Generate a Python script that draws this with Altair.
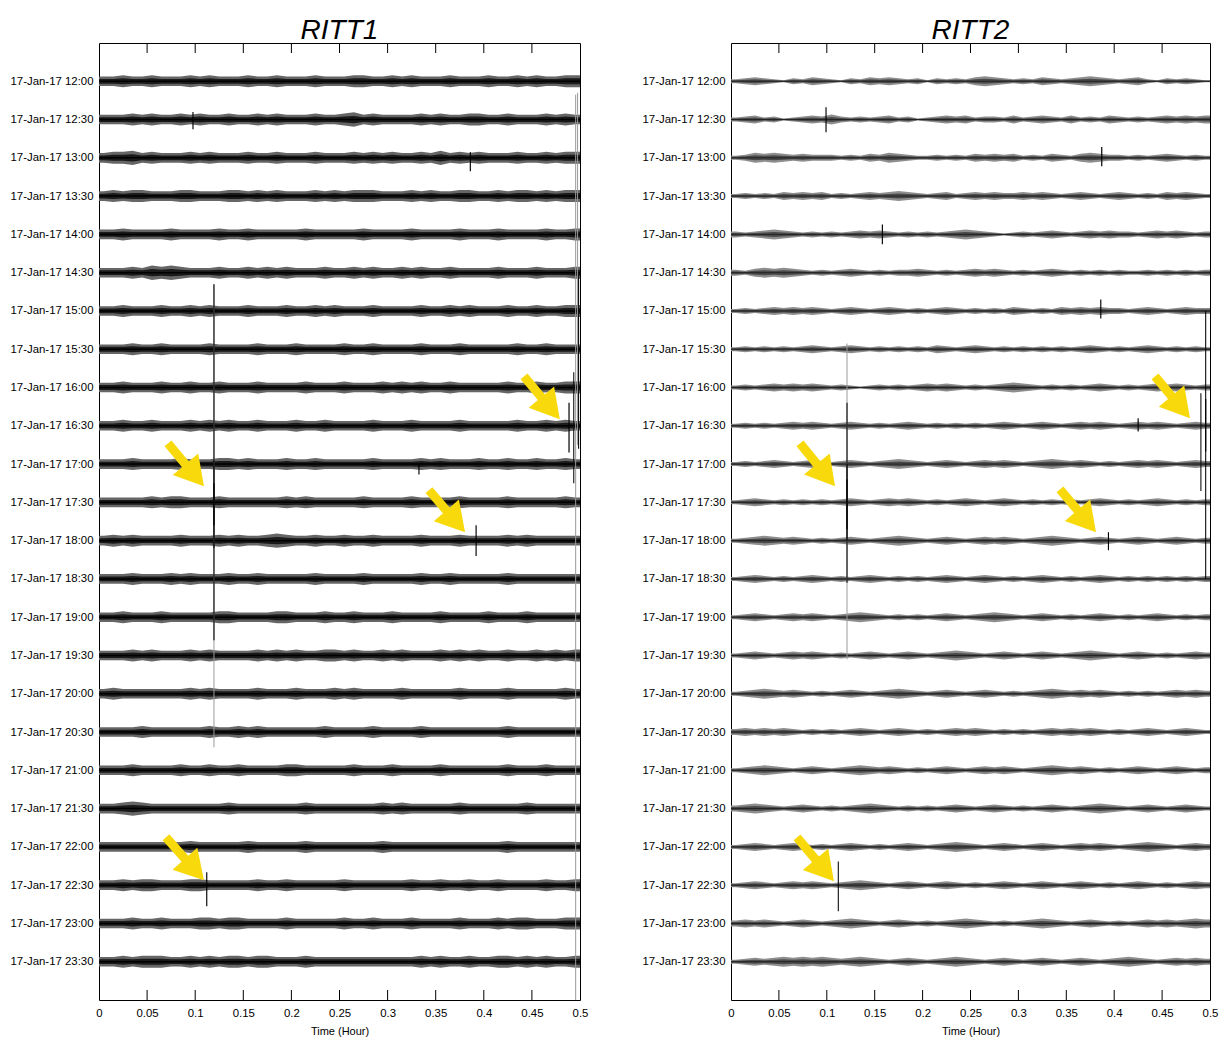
import json
import math
import altair as alt
import pandas as pd

# ---------------- data ----------------
ROW_LABELS = [
    "17-Jan-17 12:00", "17-Jan-17 12:30", "17-Jan-17 13:00", "17-Jan-17 13:30",
    "17-Jan-17 14:00", "17-Jan-17 14:30", "17-Jan-17 15:00", "17-Jan-17 15:30",
    "17-Jan-17 16:00", "17-Jan-17 16:30", "17-Jan-17 17:00", "17-Jan-17 17:30",
    "17-Jan-17 18:00", "17-Jan-17 18:30", "17-Jan-17 19:00", "17-Jan-17 19:30",
    "17-Jan-17 20:00", "17-Jan-17 20:30", "17-Jan-17 21:00", "17-Jan-17 21:30",
    "17-Jan-17 22:00", "17-Jan-17 22:30", "17-Jan-17 23:00", "17-Jan-17 23:30",
]
X_TICKS = [0, 0.05, 0.1, 0.15, 0.2, 0.25, 0.3, 0.35, 0.4, 0.45, 0.5]

# envelope (half-amplitude) in 0.01 h bins, one string per trace
RITT1_ENV = [
    "4454454445 4544454454 4454445544 5454445444 5445454455",
    "4445454454 5445445454 4454456454 4445454455 4454445454",
    "4556454445 4544454454 4454445454 5445464545 4445445455",
    "4545544455 4445545454 4454545554 4454544554 4545545455",
    "4454444544 4454454444 4544444544 4454444544 4544445445",
    "4445465654 4454454545 4445445454 4545445444 4544454445",
    "4454445445 4544454445 4454544454 4445445454 4454454455",
    "4445445444 4544445444 5444454454 4445444544 4445445444",
    "4454445445 4454445444 4544454445 4545445444 4454454455",
    "4454454445 4545445444 5445444454 4454444544 4445445454",
    "4445444454 4455454445 4454444454 4445454445 4454454454",
    "4444454554 4454444445 4544444544 4454444544 4454444454",
    "4545444454 4454544565 4454454454 4445444544 4454544444",
    "4445444545 4445445444 4454444544 4445445444 4454444444",
    "4454445444 4455444455 4445445444 5444454444 5444544444",
    "4445454445 4544445454 5445545445 4544454545 4454454545",
    "4544444445 4544445444 5444545444 4544444544 4454444454",
    "4444544444 4544545444 4445444454 4445444444 4454444444",
    "4445444454 4544544445 5444445444 5444454444 4454445444",
    "4456544444 4445444444 4544444445 4544444544 4444544444",
    "4444444445 4444454444 4544444445 4444444444 4454444444",
    "4454554445 5444445445 4444454444 4454454454 4544445445",
    "4445445444 5545544445 4444454454 4454444544 4545544455",
    "4454555445 4545545544 4544444444 4445454454 4554545445",
]
RITT2_ENV = [
    "2343213243 2132434323 1323245432 3243234543 2342132321",
    "2342312343 5323234231 2343423324 2343242324 3232343434",
    "2354543433 3232435432 2323243434 2324324543 3232343232",
    "2323243434 2323434543 2342343433 4343234323 4323243432",
    "3234543232 3234343232 3234543212 3234323434 3323434323",
    "3245454323 2343232334 3232343432 3234323232 3223232323",
    "2323434343 2343234323 2343232324 3232434343 3234323433",
    "2323232343 2343232323 2432343232 3232323432 3234323232",
    "2323434343 2321232323 4343232345 4323232343 2323434323",
    "2323234343 2343232343 2323232343 2343234343 2343432343",
    "2323432343 2343234543 2343234343 2345434323 2343432343",
    "2343232323 2343234343 2323432343 2323232343 2323432323",
    "2345434323 2343234543 2343234343 2345432343 2343234323",
    "2343232343 2323432323 2343234323 2343232343 2323232323",
    "2343234343 2345432323 2343234543 2343232343 2323432323",
    "2343234343 2323432343 2345432343 2343234543 2343232343",
    "2345434323 2343234543 2343234323 2345434343 2323234343",
    "3434343232 3234323432 3234343232 3234343432 3234323432",
    "2345432343 2345434323 2343234343 2345434323 2343234323",
    "3454323432 3234543232 3234323432 3234323454 3234323432",
    "2343234323 2343232343 2345432343 2343234343 2345432343",
    "2343234343 2345432343 2343232343 2343234323 2343232343",
    "3434323432 3454323432 3234543232 3454323432 3234343454",
    "2343454545 4345432343 2345432343 2343234323 4543234343",
]

# seismic events: (panel, time [h], top row, bottom row, kind)
EVENTS = [
    ("RITT1", 0.0977, 0.80, 1.25, "minor"),
    ("RITT1", 0.386, 1.85, 2.35, "minor"),
    ("RITT1", 0.4955, 0.35, 24.0, "faint"),
    ("RITT1", 0.4975, 0.30, 9.5, "faint"),
    ("RITT1", 0.4985, 5.0, 9.6, "medium"),
    ("RITT1", 0.4935, 7.6, 10.5, "medium"),
    ("RITT1", 0.4886, 8.4, 9.7, "strong"),
    ("RITT1", 0.1195, 5.3, 17.4, "faint"),
    ("RITT1", 0.1195, 5.3, 14.6, "line"),
    ("RITT1", 0.1195, 9.9, 12.2, "medium"),
    ("RITT1", 0.1195, 10.5, 11.6, "strong"),
    ("RITT1", 0.392, 11.6, 12.4, "minor"),
    ("RITT1", 0.112, 20.66, 21.55, "minor"),
    ("RITT1", 0.3326, 10.0, 10.27, "minor"),
    ("RITT2", 0.0992, 0.68, 1.33, "minor"),
    ("RITT2", 0.387, 1.72, 2.22, "strong"),
    ("RITT2", 0.158, 3.74, 4.26, "minor"),
    ("RITT2", 0.386, 5.7, 6.2, "minor"),
    ("RITT2", 0.4955, 6.0, 13.0, "line"),
    ("RITT2", 0.4905, 8.15, 10.7, "medium"),
    ("RITT2", 0.4955, 8.3, 9.67, "strong"),
    ("RITT2", 0.425, 8.8, 9.15, "minor"),
    ("RITT2", 0.1211, 6.85, 15.1, "faint"),
    ("RITT2", 0.1211, 8.4, 13.1, "line"),
    ("RITT2", 0.1211, 10.0, 12.0, "medium"),
    ("RITT2", 0.1211, 10.4, 11.7, "strong"),
    ("RITT2", 0.394, 11.78, 12.25, "minor"),
    ("RITT2", 0.112, 20.38, 21.68, "line"),
]

# yellow arrows: (panel, tail time, tail row, tip time, tip row)
ARROWS = [
    ("RITT1", 0.4418, 7.71, 0.4790, 8.83),
    ("RITT1", 0.0717, 9.46, 0.1091, 10.58),
    ("RITT1", 0.3430, 10.68, 0.3805, 11.78),
    ("RITT1", 0.0696, 19.75, 0.1091, 20.87),
    ("RITT2", 0.4426, 7.71, 0.4791, 8.80),
    ("RITT2", 0.0720, 9.46, 0.1086, 10.58),
    ("RITT2", 0.3434, 10.66, 0.3810, 11.78),
    ("RITT2", 0.0689, 19.75, 0.1075, 20.90),
]

# ---------------- layout / style ----------------
H = 957
WIDTHS = {"RITT1": 481, "RITT2": 479}
PX_PER_ROW = H / 25.0
FONT = "Liberation Sans"
YELLOW = "#F8DA0C"
STYLE = {
    "RITT1": dict(env=RITT1_ENV, px=1.2, outer="#666666", inner="#1a1a1a", center="#000000", cw=1.5),
    "RITT2": dict(env=RITT2_ENV, px=1.0, outer="#8e8e8e", inner="#4a4a4a", center="#222222", cw=1.0),
}
KINDS = ["faint", "line", "medium", "minor", "strong"]
KIND_COLORS = ["#9a9a9a", "#000000", "#111111", "#000000", "#000000"]
KIND_WIDTHS = [1, 1.2, 2.2, 1.2, 5]
HEAD_SIZE = 1100


def panel(name):
    st = STYLE[name]
    W = WIDTHS[name]
    px_per_t = W / 0.5
    recs = []
    for r, s in enumerate(st["env"]):
        s = "".join(s.split())
        n = len(s)
        pts = [(0.0, int(s[0]))] + [((i + 0.5) / n * 0.5, int(c)) for i, c in enumerate(s)] + [(0.5, int(s[-1]))]
        for t, d in pts:
            a = d * st["px"] / PX_PER_ROW
            recs.append(dict(row=r, t=t, lo=r - a, hi=r + a, lo2=r - 0.5 * a, hi2=r + 0.5 * a))
    env = pd.DataFrame(recs)
    rows = pd.DataFrame({"row": list(range(len(ROW_LABELS)))})
    ev = pd.DataFrame([e for e in EVENTS if e[0] == name], columns=["panel", "t", "top", "bot", "kind"])
    ticks = pd.DataFrame({"t": [v for v in X_TICKS if 0 < v < 0.5]})

    arr = []
    for p, t0, r0, t1, r1 in ARROWS:
        if p != name:
            continue
        dx = (t1 - t0) * px_per_t
        dy = (r1 - r0) * PX_PER_ROW
        L = math.hypot(dx, dy)
        ux, uy = dx / L, dy / L
        h = math.sqrt(3) / 2 * math.sqrt(HEAD_SIZE) / 2
        hx = t1 - h * ux / px_per_t
        hy = r1 - h * uy / PX_PER_ROW
        arr.append(dict(t0=t0, r0=r0, hx=hx, hy=hy, ang=math.degrees(math.atan2(dy, dx)) % 360))
    arr = pd.DataFrame(arr)

    xs = alt.Scale(domain=[0, 0.5], nice=False, zero=False)
    ys = alt.Scale(domain=[-1, 24], nice=False, zero=False, reverse=True)
    xaxis = alt.Axis(values=X_TICKS, format="~g", labelFlush=False, labelPadding=7, ticks=False,
                     domain=False, grid=False, title="Time (Hour)", titlePadding=7)
    yaxis = alt.Axis(values=list(range(len(ROW_LABELS))), ticks=False, domain=False, grid=False,
                     title=None, labelPadding=6,
                     labelExpr=json.dumps(ROW_LABELS) + "[round(datum.value)]")

    def X(f):
        return alt.X(f, scale=xs, axis=xaxis)

    def Y(f):
        return alt.Y(f, scale=ys, axis=yaxis)

    outer = alt.Chart(env).mark_area(color=st["outer"], clip=True).encode(
        x=X("t:Q"), y=Y("lo:Q"), y2="hi:Q", detail="row:N")
    inner = alt.Chart(env).mark_area(color=st["inner"], clip=True).encode(
        x=X("t:Q"), y=Y("lo2:Q"), y2="hi2:Q", detail="row:N")
    center = alt.Chart(rows).mark_rule(color=st["center"], strokeWidth=st["cw"]).encode(
        x=alt.value(0), x2=alt.value(W), y=Y("row:Q"))
    events = alt.Chart(ev).mark_rule(clip=True).encode(
        x=X("t:Q"), y=Y("top:Q"), y2="bot:Q",
        color=alt.Color("kind:N", scale=alt.Scale(domain=KINDS, range=KIND_COLORS), legend=None),
        strokeWidth=alt.StrokeWidth("kind:N", scale=alt.Scale(domain=KINDS, range=KIND_WIDTHS), legend=None))
    top_ticks = alt.Chart(ticks).mark_rule(color="black", strokeWidth=1).encode(
        x=X("t:Q"), y=alt.value(0), y2=alt.value(10))
    bot_ticks = alt.Chart(ticks).mark_rule(color="black", strokeWidth=1).encode(
        x=X("t:Q"), y=alt.value(H - 10), y2=alt.value(H))
    shafts = alt.Chart(arr).mark_rule(color=YELLOW, strokeWidth=9, strokeCap="butt").encode(
        x=X("t0:Q"), x2="hx:Q", y=Y("r0:Q"), y2="hy:Q")
    heads = alt.Chart(arr).mark_point(shape="triangle-right", filled=True, size=HEAD_SIZE,
                                      color=YELLOW, opacity=1, strokeWidth=0).encode(
        x=X("hx:Q"), y=Y("hy:Q"), angle=alt.Angle("ang:Q", scale=None))

    return alt.layer(outer, inner, center, events, top_ticks, bot_ticks, shafts, heads).properties(
        width=W, height=H,
        title=alt.TitleParams(name, fontSize=28, font=FONT, fontStyle="italic", fontWeight="normal",
                              color="black", anchor="middle", offset=-2))


chart = alt.hconcat(panel("RITT1"), panel("RITT2"), spacing=151, bounds="flush").properties(
    padding={"left": 9, "top": 16, "right": 0, "bottom": 0}
).configure_view(stroke="black", strokeWidth=1).configure_axis(
    labelFont=FONT, labelFontSize=11.4, labelColor="black",
    titleFont=FONT, titleFontSize=11, titleFontWeight="normal", titleColor="black"
)

chart.save("out.html", embed_options={"renderer": "svg", "actions": False})
